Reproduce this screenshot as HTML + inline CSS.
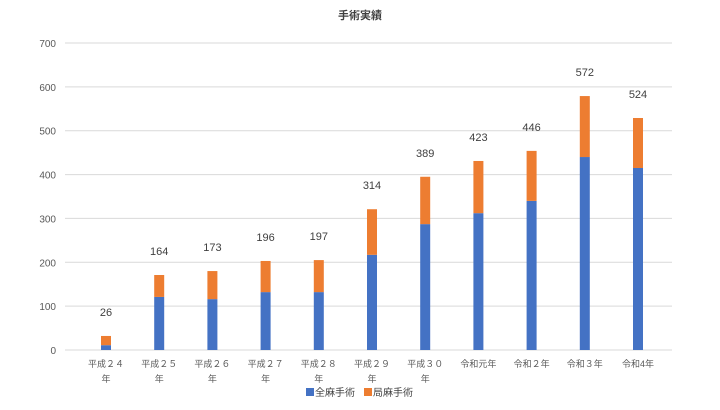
<!DOCTYPE html>
<html><head><meta charset="utf-8"><style>
body{margin:0;background:#fff;}
svg text{font-family:"Liberation Sans","Noto Sans CJK JP",sans-serif;}
</style></head><body>
<svg id="c" width="720" height="405">
<text x="360" y="19" text-anchor="middle" font-size="11" font-weight="bold" fill="#404040">手術実績</text>
<g id="grid"></g><g id="bars"></g><g id="labels"></g>
<g>
<rect x="306" y="388" width="8" height="8" fill="#4472C4"/>
<text x="315" y="396" font-size="10" fill="#404040">全麻手術</text>
<rect x="364" y="388" width="8" height="8" fill="#ED7D31"/>
<text x="373" y="396" font-size="10" fill="#404040">局麻手術</text>
</g>
</svg>
<script>
const categories=[["平成２４","年"],["平成２５","年"],["平成２６","年"],["平成２７","年"],["平成２８","年"],["平成２９","年"],["平成３０","年"],["令和元年"],["令和２年"],["令和３年"],["令和4年"]];
const generalValues=[11,121,116,132,132,217,287,312,340,440,415];
const localValues=[21,50,64,71,73,104,108,119,114,139,114];
const totalLabels=[26,164,173,196,197,314,389,423,446,572,524];
const yTicks=[0,100,200,300,400,500,600,700];
const NS="http://www.w3.org/2000/svg";
const y0=350,yTop=43,yMax=700,xL=65,xR=672,first=106,step=53.2,bw=10;
const y=v=>y0-(v/yMax)*(y0-yTop);
const x=i=>first+i*step;
function mk(tag,attrs,parent,txt){const e=document.createElementNS(NS,tag);for(const k in attrs)e.setAttribute(k,attrs[k]);if(txt!==undefined)e.textContent=txt;document.getElementById(parent).appendChild(e);return e;}
yTicks.forEach(t=>{
 const l=mk('line',{x1:xL,x2:xR,y1:y(t),y2:y(t),stroke:'#d9d9d9','stroke-width':1},'grid');
 
 
 const tx=mk('text',{x:56,y:y(t)+4,'text-anchor':'end','font-size':10,fill:'#595959'},'grid',t);
 
 
});
categories.forEach((c,i)=>{
 const g=generalValues[i],lo=localValues[i];
 const b=mk('rect',{x:x(i)-bw/2,y:y(g),width:bw,height:y(0)-y(g),fill:'#4472C4'},'bars');
 
 
 const o=mk('rect',{x:x(i)-bw/2,y:y(g+lo),width:bw,height:y(g)-y(g+lo),fill:'#ED7D31'},'bars');
 
 
 const v=mk('text',{x:x(i),y:y(g+lo)-20,'text-anchor':'middle','font-size':11,fill:'#404040'},'labels',totalLabels[i]);
 
 
 c.forEach((line,j)=>{
  const t=mk('text',{x:x(i),y:367+j*15,'text-anchor':'middle','font-size':9,fill:'#595959'},'labels',line);
  
  
 });
});
</script>
</body></html>
